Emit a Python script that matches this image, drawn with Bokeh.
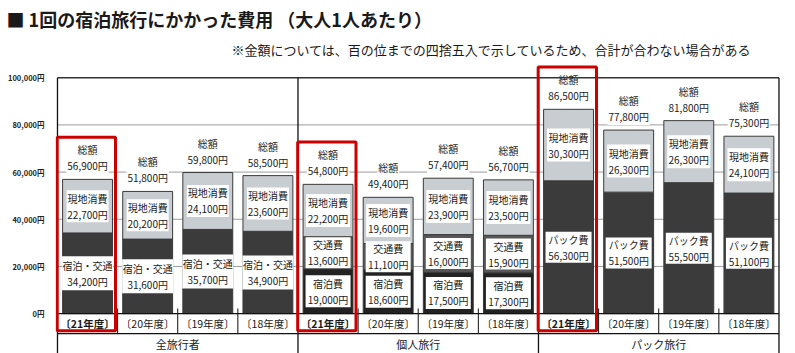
from bokeh.plotting import figure
from bokeh.models import Range1d, FixedTicker, Title
from bokeh.core.properties import value
from bokeh.embed import file_html
from bokeh.resources import INLINE

FONT = "Noto Sans CJK JP"

# ---------------- data ----------------
groups = ["全旅行者", "個人旅行", "パック旅行"]
years = ["〔21年度〕", "〔20年度〕", "〔19年度〕", "〔18年度〕"]

all_lodging_transport = [34200, 31600, 35700, 34900]
all_local = [22700, 20200, 24100, 23600]
all_total = [56900, 51800, 59800, 58500]

ind_lodging = [19000, 18600, 17500, 17300]
ind_transport = [13600, 11100, 16000, 15900]
ind_local = [22200, 19600, 23900, 23500]
ind_total = [54800, 49400, 57400, 56700]

pkg_fee = [56300, 51500, 55500, 51100]
pkg_local = [30300, 26300, 26300, 24100]
pkg_total = [86500, 77800, 81800, 75300]

tick_values = [0, 20000, 40000, 60000, 80000, 100000]
tick_labels = ["0円", "20,000円", "40,000円", "60,000円", "80,000円", "100,000円"]

title_text = "■ 1回の宿泊旅行にかかった費用 （大人1人あたり）"
note_text = "※金額については、百の位までの四捨五入で示しているため、合計が合わない場合がある"

# ---------------- styles ----------------
DARK = "#3b3b3b"
BLACKISH = "#222222"
MID = "#575757"
LIGHT = "#c8cdd1"
RED = "#cc0000"

group_series = [
    [("宿泊・交通", all_lodging_transport, DARK, 51, 34),
     ("現地消費", all_local, LIGHT, 42, 32)],
    [("宿泊費", ind_lodging, BLACKISH, 45, 32),
     ("交通費", ind_transport, MID, 45, 31),
     ("現地消費", ind_local, LIGHT, 44, 33)],
    [("パック費", pkg_fee, DARK, 46, 31),
     ("現地消費", pkg_local, LIGHT, 43, 33)],
]
group_totals = [all_total, ind_total, pkg_total]

ROW1 = -8500      # bottom of year row
YMIN = -16900
YMAX = 105600

p = figure(width=795, height=353,
           x_range=Range1d(-0.033, 12.042), y_range=Range1d(YMIN, YMAX),
           output_backend="svg", toolbar_location=None,
           min_border_left=55, min_border_right=14, min_border_top=64, min_border_bottom=0,
           x_axis_location=None, outline_line_color=None,
           background_fill_color="white", border_fill_color="white")
p.xgrid.visible = False
p.ygrid.visible = False

ax = p.yaxis[0]
ax.ticker = FixedTicker(ticks=tick_values)
ax.major_label_overrides = {v: l for v, l in zip(tick_values, tick_labels)}
ax.axis_line_color = None
ax.major_tick_line_color = None
ax.minor_tick_line_color = None
ax.major_label_standoff = 5
ax.major_label_text_font = FONT
ax.major_label_text_font_size = "7.5px"
ax.major_label_text_font_style = "bold"
ax.major_label_text_color = "#222222"

# gridlines 20k..80k
gv = tick_values[1:-1]
p.segment(x0=[0] * len(gv), x1=[12] * len(gv), y0=gv, y1=gv,
          line_color="#9c9c9c", line_width=1)

# bars, segment boxes and labels
bx, bb, bt, bc = [], [], [], []
box_x, box_y, box_w, box_h, lab1, lab2 = [], [], [], [], [], []
tot_x, tot_y, tot_l = [], [], []
for g, series in enumerate(group_series):
    for j in range(len(years)):
        slot = g * 4 + j
        xc = slot + 0.5
        base = 0
        for name, vals, col, w, h in series:
            v = vals[j]
            bx.append(xc); bb.append(base); bt.append(base + v); bc.append(col)
            box_x.append(xc); box_y.append(base + v / 2)
            box_w.append(w); box_h.append(h)
            lab1.append(name); lab2.append(f"{v:,}円")
            base += v
        tot_x.append(xc); tot_y.append(base); tot_l.append(f"{group_totals[g][j]:,}円")

p.vbar(x=bx, bottom=bb, top=bt, width=0.83, fill_color=bc,
       line_color="#3a3a3a", line_width=1)
p.rect(x=box_x, y=box_y, width=box_w, height=box_h,
       width_units="screen", height_units="screen",
       fill_color="white", line_color=None)
common = dict(text_align="center", text_baseline="middle",
              text_font=value(FONT), text_font_size="10px", text_color="#1a1a1a")
p.text(x=box_x, y=box_y, text=lab1, y_offset=-8, **common)
p.text(x=box_x, y=box_y, text=lab2, y_offset=8, **common)

# totals above bars
p.text(x=tot_x, y=tot_y, text=["総額"] * len(tot_x), y_offset=-29.5,
       background_fill_color="white", padding=1, **common)
p.text(x=tot_x, y=tot_y, text=tot_l, y_offset=-13.5,
       background_fill_color="white", padding=1, **common)

# frame / table lines
p.segment(x0=[0], x1=[12], y0=[100000], y1=[100000], line_color="#333333", line_width=1.5)
p.segment(x0=[0, 0], x1=[12, 12], y0=[0, ROW1], y1=[0, ROW1], line_color="#111111", line_width=1.3)
sep_major = [0, 4, 8, 12]
p.segment(x0=sep_major, x1=sep_major, y0=[YMIN] * 4, y1=[100000] * 4,
          line_color="#111111", line_width=1.3)
sep_minor = [s for s in range(1, 12) if s % 4 != 0]
p.segment(x0=sep_minor, x1=sep_minor, y0=[ROW1] * len(sep_minor), y1=[2200] * len(sep_minor),
          line_color="#111111", line_width=1)

# year labels
yx = [g * 4 + j + 0.5 for g in range(len(groups)) for j in range(len(years))]
yl = [years[j] for g in range(len(groups)) for j in range(len(years))]
ys = ["bold" if j == 0 else "normal" for g in range(len(groups)) for j in range(len(years))]
p.text(x=yx, y=[ROW1 / 2] * len(yx), text=yl, text_font_style=ys,
       text_align="center", text_baseline="middle", text_font=value(FONT),
       text_font_size="10.5px", text_color="#1a1a1a")
# group labels
p.text(x=[g * 4 + 2 for g in range(len(groups))], y=[(ROW1 + YMIN) / 2] * len(groups),
       text=groups, text_align="center", text_baseline="middle", text_font=value(FONT),
       text_font_size="11px", text_color="#1a1a1a")

# red highlight boxes on latest year
rx = [g * 4 + 0.48 for g in range(len(groups))]
rtop = [tot_y[g * 4] + 17900 for g in range(len(groups))]
p.quad(left=[x - 0.485 for x in rx], right=[x + 0.485 for x in rx],
       bottom=[-7300] * len(rx), top=rtop, fill_color=None,
       line_color=RED, line_width=3)

# titles
p.add_layout(Title(text=note_text, align="right", offset=30, text_font=FONT,
                   text_font_size="13px", text_font_style="normal",
                   text_color="#1a1a1a", standoff=12), "above")
p.add_layout(Title(text=title_text, align="left", offset=-49, text_font=FONT,
                   text_font_size="18px", text_font_style="bold",
                   text_color="#1a1a1a", standoff=0), "above")

open("out.html", "w").write(file_html(p, INLINE))
